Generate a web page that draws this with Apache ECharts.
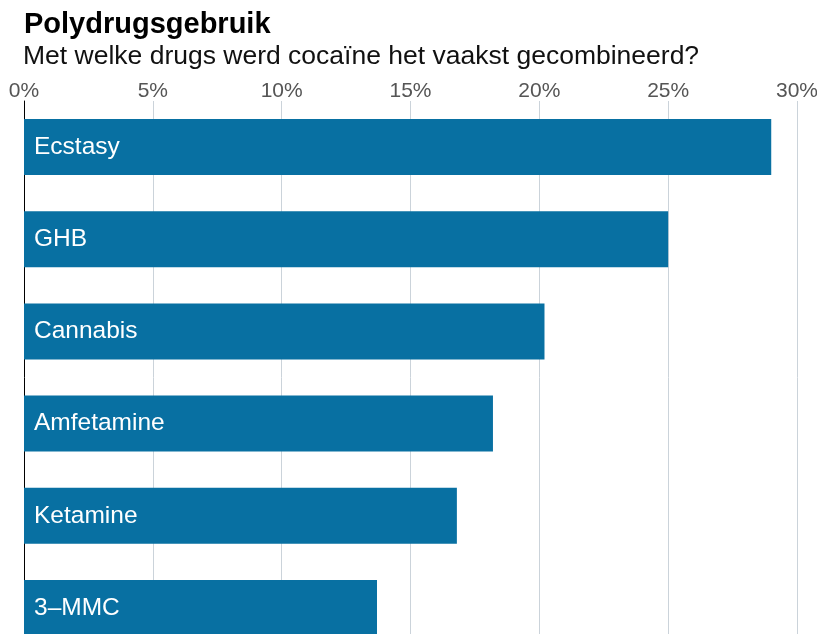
<!DOCTYPE html>
<html>
<head>
<meta charset="utf-8">
<script src="https://cdn.jsdelivr.net/npm/echarts@6/dist/echarts.min.js"></script>
<style>
html,body{margin:0;padding:0;background:#fff;overflow:hidden;width:817px;height:634px;}
#chart{width:817px;height:655px;}
</style>
</head>
<body>
<div id="chart"></div>
<script>
const titleText = 'Polydrugsgebruik';
const subtitleText = 'Met welke drugs werd cocaïne het vaakst gecombineerd?';
const categories = ['Ecstasy', 'GHB', 'Cannabis', 'Amfetamine', 'Ketamine', '3–MMC'];
const values = [29.0, 25.0, 20.2, 18.2, 16.8, 13.7];
const tickValues = [0, 5, 10, 15, 20, 25, 30];

const font = '"Liberation Sans", Arial, Helvetica, sans-serif';
const chart = echarts.init(document.getElementById('chart'), null, {renderer: 'canvas'});
chart.setOption({
  animation: false,
  backgroundColor: '#ffffff',
  textStyle: {fontFamily: font},
  title: [
    {text: titleText, left: 24, top: 10, padding: 0, textStyle: {fontFamily: font, fontSize: 29, fontWeight: 'bold', color: '#000'}},
    {text: subtitleText, left: 23, top: 43, padding: 0, textStyle: {fontFamily: font, fontSize: 26.5, fontWeight: 'normal', color: '#111'}}
  ],
  grid: {left: 24, right: 20, top: 101, bottom: 1, containLabel: false, outerBoundsMode: 'none'},
  xAxis: {
    type: 'value', position: 'top', min: tickValues[0], max: tickValues[tickValues.length - 1], interval: 5,
    axisLine: {show: false}, axisTick: {show: false},
    axisLabel: {formatter: '{value}%', color: '#555', fontSize: 21, margin: -1, fontFamily: font},
    splitLine: {show: true, lineStyle: {color: '#cbd3da', width: 1}}
  },
  yAxis: {
    type: 'category', data: categories, inverse: true,
    axisLine: {show: true, lineStyle: {color: '#000', width: 1}},
    axisTick: {show: false}, axisLabel: {show: false}, splitLine: {show: false}
  },
  series: [{
    type: 'bar', data: values, barWidth: 56,
    itemStyle: {color: '#0870a2'},
    label: {show: true, position: 'insideLeft', distance: 10, formatter: '{b}', color: '#fff', fontSize: 24.5, fontFamily: font}
  }]
});
</script>
</body>
</html>
